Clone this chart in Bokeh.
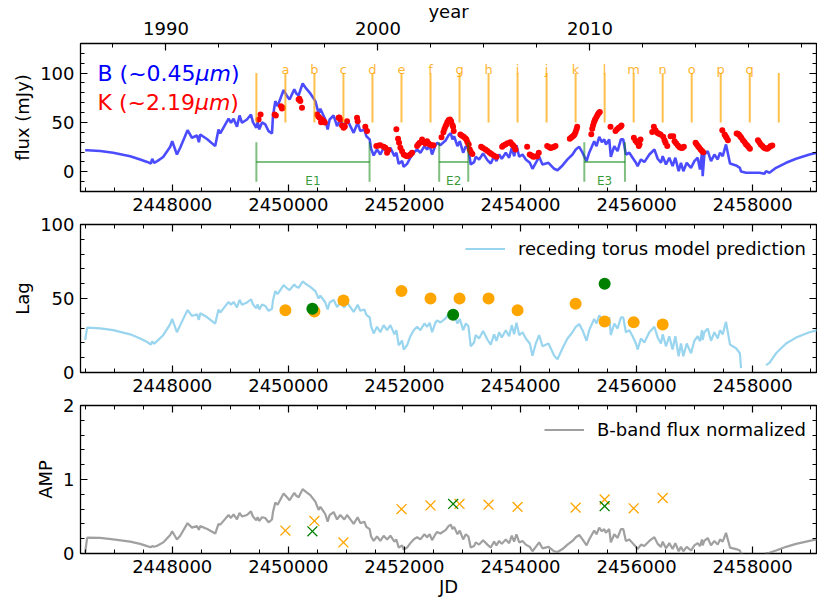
from bokeh.plotting import figure
from bokeh.models import (Range1d, LinearAxis, SingleIntervalTicker, FixedTicker, Label,
                          Legend, LegendItem, CustomJSTickFormatter, BasicTickFormatter)
from bokeh.layouts import column
from bokeh.embed import file_html
from bokeh.resources import INLINE
from bokeh.core.properties import value

nan = float("nan")

# ---------------- data ----------------
jd_b = [2446500, 2446535, 2446759, 2446983, 2447276, 2447448, 2447569, 2447633, 2447655, 2447690,
        2447742, 2447845, 2447966, 2448000, 2448081, 2448138, 2448264, 2448340, 2448426, 2448460,
        2448483, 2448604, 2448741, 2448798, 2448828, 2448971, 2449012, 2449057, 2449116, 2449160,
        2449202, 2449288, 2449357, 2449391, 2449448, 2449471, 2449500, 2449547, 2449603, 2449660,
        2449719, 2449736, 2449776, 2449816, 2449919, 2449978, 2450022, 2450103, 2450138, 2450178,
        2450247, 2450310, 2450379, 2450466, 2450522, 2450552, 2450598, 2450638, 2450678, 2450712,
        2450781, 2450840, 2450896, 2450965, 2451012, 2451069, 2451126, 2451195, 2451241, 2451310,
        2451345, 2451402, 2451426, 2451471, 2451529, 2451586, 2451643, 2451702, 2451759, 2451828,
        2451862, 2451902, 2451960, 2451988, 2452046, 2452103, 2452160, 2452219, 2452276, 2452345,
        2452391, 2452436, 2452477, 2452534, 2452564, 2452621, 2452714, 2452760, 2452800, 2452828,
        2452857, 2452914, 2452954, 2453013, 2453058, 2453103, 2453143, 2453201, 2453229, 2453287,
        2453356, 2453430, 2453488, 2453546, 2453586, 2453633, 2453678, 2453747, 2453805, 2453850,
        2453891, 2453931, 2453978, 2454035, 2454092, 2454161, 2454207, 2454264, 2454322, 2454379,
        2454483, 2454581, 2454638, 2454724, 2454810, 2454896, 2454953, 2455012, 2455069, 2455138,
        2455184, 2455270, 2455310, 2455357, 2455402, 2455443, 2455471, 2455529, 2455557, 2455616,
        2455673, 2455730, 2455771, 2455816, 2455875, 2455932, 2455989, 2456018, 2456076, 2456134,
        2456220, 2456307, 2456364, 2456421, 2456450, 2456507, 2456564, 2456621, 2456668, 2456725,
        2456765, 2456806, 2456864, 2456938, 2456996, 2457053, 2457093, 2457127, 2457139, 2457168,
        2457226, 2457283, 2457341, 2457398, 2457438, 2457484, 2457541, 2457610, 2457714, 2457780,
        2457800, 2457886, 2458001, 2458117, 2458203, 2458230, 2458289, 2458403, 2458576, 2458748,
        2458979, 2459152]

flux_b = [21.8, 21.8, 21.0, 19.3, 15.8, 12.5, 10.0, 8.4, 13.0, 9.0,
          10.8, 15.0, 25.3, 31.0, 17.5, 24.3, 42.2, 34.5, 36.8, 30.0,
          37.8, 33.0, 26.0, 42.9, 38.8, 53.8, 49.7, 53.8, 45.6, 57.1,
          49.7, 53.0, 58.0, 50.3, 44.6, 50.3, 43.0, 50.0, 48.0, 41.2,
          38.8, 56.4, 71.6, 66.5, 82.8, 76.7, 73.3, 83.5, 79.4, 77.4,
          89.6, 84.2, 79.4, 71.6, 59.1, 63.9, 58.0, 53.0, 42.9, 53.0,
          57.0, 46.2, 53.0, 45.6, 53.0, 46.2, 39.5, 49.7, 41.2, 43.0,
          36.0, 32.8, 23.3, 16.5, 22.6, 17.5, 24.3, 19.3, 24.3, 15.8,
          19.3, 8.0, 11.0, 5.0, 8.0, 14.2, 19.3, 22.6, 19.3, 26.0,
          22.6, 26.7, 17.5, 26.7, 29.4, 27.0, 32.0, 37.0, 39.0, 32.8,
          36.0, 26.0, 31.0, 19.3, 26.0, 23.3, 7.4, 9.8, 15.2, 12.5,
          18.6, 11.8, 8.4, 15.8, 10.8, 17.5, 13.2, 19.3, 14.2, 24.3,
          15.8, 26.7, 15.2, 17.5, 12.5, 9.1, 3.0, 9.1, 15.2, 7.4,
          9.1, 3.0, 1.6, 6.4, 12.5, 17.5, 22.6, 25.3, 19.3, 10.8,
          19.3, 31.0, 26.0, 35.5, 30.0, 32.8, 27.7, 32.8, 15.2, 26.0,
          20.9, 32.8, 32.8, 17.5, 19.3, 14.2, 9.1, 5.7, 12.5, 9.8,
          17.5, 22.6, 13.2, 9.1, 15.8, 7.4, 14.2, 5.7, 14.2, 0.6,
          9.1, 0.6, 9.1, 4.0, 10.8, 14.2, 2.3, 19.3, -4.5, 17.5,
          20.9, 10.8, 17.5, 12.5, 19.3, 15.8, 27.7, 8.4, 6.4, 4.0,
          0.2, -1.0, -1.0, -1.0, -2.0, 0.6, -1.0, 4.0, 9.1, 13.2,
          17.5, 19.9]

lag_model = [22.0, 30.3, 29.8, 28.6, 25.8, 23.0, 20.6, 18.8, 21.0, 19.5,
             21.4, 25.2, 32.7, 36.2, 27.2, 32.0, 42.2, 38.2, 39.4, 35.6,
             40.0, 37.3, 33.1, 42.6, 40.5, 47.7, 45.8, 47.7, 43.9, 49.1,
             45.8, 47.3, 49.5, 46.1, 43.4, 46.1, 42.6, 46.0, 45.0, 41.7,
             43.0, 48.8, 55.0, 53.0, 59.1, 56.9, 55.7, 59.4, 57.9, 57.2,
             61.5, 59.6, 57.9, 55.0, 50.0, 52.0, 49.5, 47.3, 42.6, 47.3,
             49.1, 44.2, 47.3, 43.9, 47.3, 44.2, 40.9, 45.8, 41.7, 42.6,
             39.0, 37.2, 31.4, 26.4, 30.9, 27.2, 32.0, 28.6, 32.0, 25.8,
             28.6, 18.4, 21.6, 15.5, 18.4, 24.5, 28.6, 30.9, 28.6, 33.1,
             30.9, 33.6, 27.2, 33.6, 35.2, 33.8, 36.8, 39.5, 40.6, 37.2,
             39.0, 33.1, 36.2, 28.6, 33.1, 31.4, 17.7, 20.3, 25.3, 23.0,
             28.0, 22.3, 18.8, 25.8, 21.4, 27.2, 23.6, 28.6, 24.5, 32.0,
             25.8, 33.6, 25.3, 27.2, 23.0, 19.6, 11.3, 19.6, 25.3, 17.7,
             19.6, 11.3, 9.0, 16.4, 23.0, 27.2, 30.9, 32.7, 28.6, 21.4,
             28.6, 36.2, 33.1, 38.7, 35.6, 37.2, 34.2, 37.2, 25.3, 33.1,
             29.7, 37.2, 37.2, 27.2, 28.6, 24.5, 19.6, 15.5, 23.0, 20.3,
             27.2, 30.9, 23.6, 19.6, 25.8, 17.7, 24.5, 15.5, 24.5, 11.0,
             19.6, 11.0, 19.6, 13.0, 21.4, 24.5, 21.0, 28.6, 22.0, 27.2,
             29.7, 21.4, 27.2, 23.0, 28.6, 25.8, 34.2, 18.8, 16.4, 13.0,
             2.9, nan, nan, nan, nan, 5.0, 6.5, 13.0, 19.6, 23.6,
             27.2, 29.0]

amp_norm = [0.01, 0.215, 0.21, 0.19, 0.16, 0.13, 0.10, 0.085, 0.10, 0.09,
            0.105, 0.15, 0.25, 0.30, 0.19, 0.24, 0.41, 0.35, 0.37, 0.32,
            0.37, 0.33, 0.27, 0.40, 0.39, 0.52, 0.48, 0.53, 0.46, 0.55,
            0.50, 0.52, 0.57, 0.50, 0.45, 0.49, 0.44, 0.49, 0.48, 0.42,
            0.46, 0.56, 0.69, 0.66, 0.81, 0.76, 0.72, 0.82, 0.78, 0.76,
            0.87, 0.83, 0.79, 0.70, 0.59, 0.63, 0.58, 0.53, 0.43, 0.52,
            0.56, 0.46, 0.52, 0.46, 0.52, 0.46, 0.40, 0.49, 0.41, 0.43,
            0.36, 0.33, 0.23, 0.17, 0.23, 0.17, 0.24, 0.19, 0.24, 0.16,
            0.19, 0.08, 0.11, 0.055, 0.08, 0.14, 0.19, 0.22, 0.19, 0.26,
            0.22, 0.26, 0.18, 0.26, 0.29, 0.27, 0.32, 0.37, 0.39, 0.33,
            0.36, 0.26, 0.31, 0.19, 0.26, 0.23, 0.08, 0.10, 0.15, 0.12,
            0.18, 0.12, 0.08, 0.16, 0.11, 0.17, 0.13, 0.19, 0.14, 0.24,
            0.16, 0.26, 0.15, 0.17, 0.12, 0.09, 0.03, 0.09, 0.15, 0.07,
            0.09, 0.03, 0.02, 0.06, 0.12, 0.17, 0.22, 0.25, 0.19, 0.11,
            0.19, 0.31, 0.26, 0.35, 0.30, 0.33, 0.28, 0.33, 0.15, 0.26,
            0.21, 0.33, 0.33, 0.17, 0.19, 0.14, 0.09, 0.06, 0.12, 0.10,
            0.17, 0.22, 0.13, 0.09, 0.16, 0.07, 0.14, 0.06, 0.14, 0.03,
            0.09, 0.03, 0.09, 0.04, 0.11, 0.14, 0.10, 0.19, 0.11, 0.17,
            0.21, 0.11, 0.17, 0.12, 0.19, 0.16, 0.28, 0.08, 0.06, 0.04,
            0.0, -0.05, -0.05, -0.05, -0.05, 0.006, 0.01, 0.04, 0.09, 0.13,
            0.17, 0.20]

jd_k = [2449488, 2449522, 2449764, 2449785, 2449874, 2449891, 2449905, 2450178, 2450190, 2450207,
        2450236, 2450495, 2450517, 2450540, 2450564, 2450581, 2450609, 2450629, 2450867, 2450879,
        2450896, 2450926, 2450953, 2450974, 2451012, 2451184, 2451195, 2451327, 2451357, 2451517,
        2451557, 2451586, 2451643, 2451672, 2451702, 2451724, 2451862, 2451891, 2451908, 2451931,
        2451960, 2451988, 2452017, 2452046, 2452077, 2452103, 2452132, 2452219, 2452241, 2452264,
        2452305, 2452336, 2452362, 2452391, 2452414, 2452436, 2452477, 2452500, 2452640, 2452672,
        2452689, 2452707, 2452724, 2452741, 2452764, 2452785, 2452805, 2452827, 2452839, 2452850,
        2452965, 2452991, 2453022, 2453051, 2453069, 2453086, 2453108, 2453126, 2453146, 2453172,
        2453322, 2453353, 2453396, 2453431, 2453470, 2453500, 2453539, 2453586, 2453684, 2453707,
        2453741, 2453776, 2453827, 2453853, 2453874, 2453896, 2453913, 2454115, 2454160, 2454189,
        2454219, 2454250, 2454288, 2454315, 2454460, 2454491, 2454517, 2454546, 2454574, 2454603,
        2454850, 2454870, 2454891, 2454914, 2454931, 2454948, 2454965, 2454977, 2455220, 2455236,
        2455250, 2455264, 2455279, 2455293, 2455314, 2455332, 2455350, 2455367, 2455551, 2455637,
        2455663, 2455694, 2455724, 2455741, 2455953, 2455982, 2456011, 2456039, 2456051, 2456068,
        2456270, 2456298, 2456327, 2456356, 2456384, 2456413, 2456459, 2456482, 2456499, 2456529,
        2456586, 2456632, 2456655, 2456681, 2456712, 2456736, 2456758, 2456787, 2456815, 2457017,
        2457034, 2457056, 2457077, 2457103, 2457126, 2457149, 2457477, 2457517, 2457534, 2457551,
        2457574, 2457724, 2457741, 2457763, 2457784, 2457805, 2457833, 2457862, 2457884, 2457907,
        2457929, 2457953, 2458091, 2458115, 2458139, 2458168, 2458196, 2458225, 2458253, 2458281,
        2458310, 2458339]

flux_k = [53, 58, 58, 57, 66.5, 64, 65, 73.3, 74, 71.6,
          65, 58, 56, 54.8, 50.3, 53, 51.3, 50, 54.8, 55,
          53, 47, 44.6, 46, 51.3, 54.8, 51.3, 45.6, 41.2, 26,
          26.7, 27, 25.3, 24.3, 19.3, 22, 43, 33.5, 29.4, 24.3,
          20.9, 17.5, 16.5, 15.8, 16.5, 17.5, 19.3, 26, 28, 29.4,
          32.8, 30, 28.7, 31, 29, 27.7, 26.7, 27, 35, 40,
          43, 46, 48, 50.5, 52.4, 53, 51.3, 47.5, 45.6, 41.2,
          37.8, 36.5, 35.5, 34, 32.8, 30, 27.7, 22.6, 20, 18,
          25.3, 24, 22.6, 21, 19.3, 18, 16.5, 15.2, 25.3, 26.5,
          27.7, 29, 30, 28, 26.7, 25, 22.6, 25.3, 17.5, 16.5,
          15.2, 15.5, 15.8, 19.3, 26, 25, 24, 24.5, 25, 26,
          33.5, 34.5, 35.5, 36.5, 37.8, 40, 43, 45.6, 38, 43.6,
          47, 49.7, 52, 53.8, 56, 58, 59.5, 60.5, 45.6, 41.2,
          43, 44.6, 45.6, 47, 34.5, 31.5, 29.4, 26, 28, 32.8,
          40.2, 45.6, 42, 39.5, 38.5, 37.8, 35.5, 32, 29.4, 26,
          36, 36, 31, 29, 26.7, 25, 24.3, 24, 25.3, 29.4,
          28, 26, 24.5, 22.6, 21, 19.9, 42.2, 37.8, 36, 34.5,
          32, 38.8, 38.5, 37.8, 36, 34.5, 32, 30, 28, 26.7,
          25, 23.3, 32, 30, 27.7, 26, 24.3, 23.5, 23.3, 24.5,
          26, 26.7]

win_jd = [2449450, 2449950, 2450450, 2450950, 2451450, 2451950, 2452450, 2452950, 2453450, 2453950,
          2454450, 2454950, 2455450, 2455950, 2456450, 2456950, 2457450, 2457950, 2458450]
win_letters = ["a", "b", "c", "d", "e", "f", "g", "h", "i", "j", "k", "l", "m", "n", "o", "p", "q"]

e_start = [2449450, 2452600, 2455100]
e_end = [2451400, 2453100, 2455800]
e_names = ["E1", "E2", "E3"]

lag_jd = [2449950, 2450450, 2450950, 2451950, 2452450, 2452950, 2453450, 2453950,
          2454950, 2455450, 2455950, 2456450]
lag_val = [42, 41.2, 48.6, 55, 50, 50, 50, 42, 46.5, 34.5, 34, 32.5]
amp_val = [0.31, 0.44, 0.15, 0.60, 0.65, 0.67, 0.66, 0.63, 0.62, 0.73, 0.61, 0.75]

lag_e_jd = [2450415, 2452840, 2455450]
lag_e_val = [43, 39, 60]
amp_e_val = [0.30, 0.67, 0.64]

year_major = [1990, 2000, 2010]
year_labels = ["1990", "2000", "2010"]
year_minor = [1987.5, 1992.5, 1995, 1997.5, 2002.5, 2005, 2007.5, 2012.5, 2015, 2017.5, 2020]

# ---------------- styling helpers ----------------
FONT = "DejaVu Sans"
X0, X1 = 2446420, 2459100
OVERLAP = 21


def year_of(jd):
    return 2000 + (jd - 2451544.5) / 365.25


def style_axis(ax, show_labels=True):
    ax.major_tick_in = 7
    ax.major_tick_out = 0
    ax.minor_tick_in = 4
    ax.minor_tick_out = 0
    ax.axis_line_color = None
    ax.major_tick_line_color = "black"
    ax.minor_tick_line_color = "black"
    ax.major_tick_line_width = 1.2
    ax.minor_tick_line_width = 1
    ax.major_label_text_font = FONT
    ax.major_label_text_font_size = "18px"
    ax.major_label_text_color = "black"
    ax.major_label_standoff = 6
    ax.axis_label_text_font = FONT
    ax.axis_label_text_font_size = "18px"
    ax.axis_label_text_font_style = "normal"
    ax.axis_label_text_color = "black"
    if not show_labels:
        ax.major_label_text_font_size = "0px"
        ax.major_label_standoff = 0
        ax.formatter = CustomJSTickFormatter(code="return ''")


def jd_ticker():
    return SingleIntervalTicker(interval=2000, num_minor_ticks=4)


def make_fig(height, y0, y1, yint, top, bottom, ylabel, margin=None):
    kw = {}
    if margin is not None:
        kw["margin"] = margin
    p = figure(width=817, height=height, x_range=Range1d(X0, X1), y_range=Range1d(y0, y1),
               output_backend="svg", toolbar_location=None,
               min_border_left=80, min_border_right=1, min_border_top=top, min_border_bottom=bottom, **kw)
    p.grid.visible = False
    p.outline_line_color = "black"
    p.outline_line_width = 1.3
    p.outline_line_alpha = 1
    p.background_fill_color = "white"
    p.border_fill_alpha = 0
    xa = p.xaxis[0]
    xa.ticker = jd_ticker()
    xa.formatter = BasicTickFormatter(use_scientific=False)
    style_axis(xa)
    ya = p.yaxis[0]
    ya.ticker = SingleIntervalTicker(interval=yint, num_minor_ticks=5)
    ya.axis_label = ylabel
    ya.axis_label_standoff = 4
    style_axis(ya)
    yr = LinearAxis(ticker=SingleIntervalTicker(interval=yint, num_minor_ticks=5))
    style_axis(yr, show_labels=False)
    p.add_layout(yr, "right")
    return p


# ---------------- strip with year labels ----------------
p0 = figure(width=817, height=42, x_range=Range1d(year_of(X0), year_of(X1)), y_range=Range1d(0, 42),
            output_backend="svg", toolbar_location=None,
            min_border_left=80, min_border_right=1, min_border_top=0, min_border_bottom=0)
p0.axis.visible = False
p0.grid.visible = False
p0.outline_line_color = None
p0.background_fill_color = "white"
p0.border_fill_color = "white"
p0.text(x=year_major, y=[14.5] * 3, text=year_labels, text_font=value(FONT), text_font_size="18px",
        text_color="black", text_align="center", text_baseline="middle")
p0.text(x=[(year_of(X0) + year_of(X1)) / 2], y=[31.5], text=["year"], text_font=value(FONT),
        text_font_size="18px", text_color="black", text_align="center", text_baseline="middle")

# ---------------- top panel ----------------
p1 = make_fig(1 + 148 + 40, -20, 130, 50, 1, 40, "flux (mJy)")
p1.extra_x_ranges = {"year": Range1d(year_of(X0), year_of(X1))}
ya_top = LinearAxis(x_range_name="year", ticker=FixedTicker(ticks=year_major, minor_ticks=year_minor))
style_axis(ya_top, show_labels=False)
p1.add_layout(ya_top, "above")

p1.line(jd_b, flux_b, line_color="blue", line_alpha=0.7, line_width=2.6)
p1.scatter(jd_k, flux_k, size=6, fill_color="red", line_color=None)

p1.segment(x0=win_jd, y0=[50] * len(win_jd), x1=win_jd, y1=[100] * len(win_jd),
           line_color="orange", line_alpha=0.7, line_width=2)
p1.text(x=win_jd[1:18], y=[104] * len(win_letters), text=win_letters,
        text_font=value(FONT), text_font_size="13px", text_color="orange", text_alpha=0.85,
        text_align="center", text_baseline="alphabetic")

p1.segment(x0=e_start, y0=[-10] * 3, x1=e_start, y1=[30] * 3, line_color="green", line_alpha=0.5, line_width=2)
p1.segment(x0=e_end, y0=[-10] * 3, x1=e_end, y1=[30] * 3, line_color="green", line_alpha=0.5, line_width=2)
p1.segment(x0=e_start, y0=[10] * 3, x1=e_end, y1=[10] * 3, line_color="green", line_alpha=0.5, line_width=2)
p1.text(x=[(a + b) / 2 for a, b in zip(e_start, e_end)], y=[-9.5] * 3, text=e_names,
        text_font=value(FONT), text_font_size="12px", text_color="green", text_alpha=0.8,
        text_align="center", text_baseline="alphabetic")

lx = 2446713
for txt, dx, style, col, yy in [("B (~0.45", 0, "normal", "blue", 99.6),
                               ("\u03bcm", 98.1, "italic", "blue", 99.6),
                               (")", 133.5, "normal", "blue", 99.6),
                               ("K (~2.19", 0, "normal", "red", 69.8),
                               ("\u03bcm", 97.4, "italic", "red", 69.8),
                               (")", 132.8, "normal", "red", 69.8)]:
    p1.add_layout(Label(x=lx, y=yy, x_offset=dx, text=txt, text_font=FONT, text_font_size="22px",
                        text_font_style=style, text_color=col, text_baseline="alphabetic",
                        text_align="left"))

# ---------------- middle panel ----------------
p2 = make_fig(14 + 148 + 40, 0, 100, 50, 14, 40, "Lag", margin=(-OVERLAP, 0, 0, 0))
xt2 = LinearAxis(ticker=jd_ticker())
style_axis(xt2, show_labels=False)
p2.add_layout(xt2, "above")
r2 = p2.line(jd_b, lag_model, line_color="skyblue", line_alpha=0.85, line_width=2.2)
p2.scatter(lag_jd, lag_val, size=12, fill_color="orange", line_color=None)
p2.scatter(lag_e_jd, lag_e_val, size=12, fill_color="green", line_color=None)
leg2 = Legend(items=[LegendItem(label="receding torus model prediction", renderers=[r2])],
              location="top_right", border_line_alpha=0, background_fill_alpha=0,
              label_text_font=FONT, label_text_font_size="18px", label_text_color="black",
              glyph_width=40, glyph_height=29, label_height=29, label_standoff=13,
              padding=0, margin=10, spacing=0)
p2.add_layout(leg2)

# ---------------- bottom panel ----------------
p3 = make_fig(14 + 148 + 54, 0, 2, 1, 14, 54, "AMP", margin=(-OVERLAP, 0, 0, 0))
p3.xaxis[0].axis_label = "JD"
p3.xaxis[0].axis_label_standoff = 0
xt3 = LinearAxis(ticker=jd_ticker())
style_axis(xt3, show_labels=False)
p3.add_layout(xt3, "above")
r3 = p3.line(jd_b, amp_norm, line_color="gray", line_alpha=0.75, line_width=2.2)
p3.scatter(lag_jd, amp_val, marker="x", size=14, line_color="orange", line_width=1.3)
p3.scatter(lag_e_jd, amp_e_val, marker="x", size=14, line_color="green", line_width=1.3)
leg3 = Legend(items=[LegendItem(label="B-band flux normalized", renderers=[r3])],
              location="top_right", border_line_alpha=0, background_fill_alpha=0,
              label_text_font=FONT, label_text_font_size="18px", label_text_color="black",
              glyph_width=40, glyph_height=29, label_height=29, label_standoff=13,
              padding=0, margin=10, spacing=0)
p3.add_layout(leg3)

layout = column(p0, p1, p2, p3, spacing=0)
open("out.html", "w").write(file_html(layout, INLINE))
